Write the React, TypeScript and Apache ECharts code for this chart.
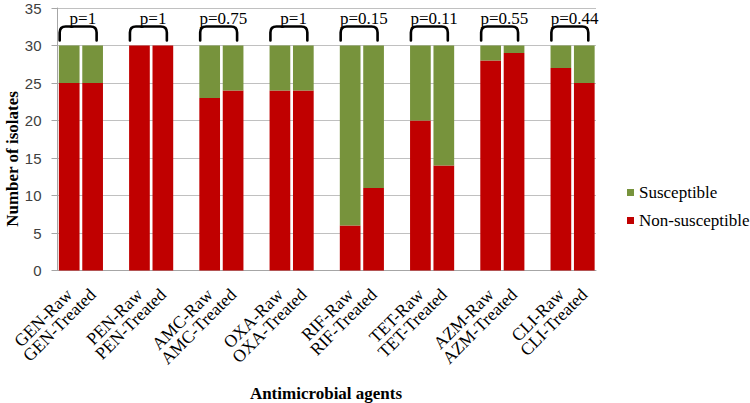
import React, { useEffect, useRef } from "react";
import * as echarts from "echarts";

const agents = ["GEN", "PEN", "AMC", "OXA", "RIF", "TET", "AZM", "CLI"];
const rawNonSusceptible = [25, 30, 23, 24, 6, 20, 28, 27];
const treatedNonSusceptible = [25, 30, 24, 24, 11, 14, 29, 25];
const rawSusceptible = [5, 0, 7, 6, 24, 10, 2, 3];
const treatedSusceptible = [5, 0, 6, 6, 19, 16, 1, 5];
const pValues = ["p=1", "p=1", "p=0.75", "p=1", "p=0.15", "p=0.11", "p=0.55", "p=0.44"];
const bracketLevel = 30;
const yMax = 35;
const yInterval = 5;

// Build category axis: Raw, Treated, spacer between groups
const categories: string[] = [];
const nsData: (number | string)[] = [];
const sData: (number | string)[] = [];
const bracketData: number[][] = [];
agents.forEach((a, g) => {
  const start = categories.length;
  categories.push(`${a}-Raw`, `${a}-Treated`);
  nsData.push(rawNonSusceptible[g], treatedNonSusceptible[g]);
  sData.push(rawSusceptible[g], treatedSusceptible[g]);
  bracketData.push([start, start + 1, bracketLevel, g]);
  if (g < agents.length - 1) {
    categories.push(" ".repeat(g + 1));
    nsData.push("-");
    sData.push("-");
  }
});

export default function App() {
  const ref = useRef<HTMLDivElement>(null);
  useEffect(() => {
    if (!ref.current) return;
    const chart = echarts.init(ref.current, null, { renderer: "svg" });
    const serif = "Liberation Serif";
    chart.setOption({
      animation: false,
      backgroundColor: "#fff",
      textStyle: { fontFamily: serif },
      grid: { left: 57.5, right: 154, top: 8, bottom: 132.5, containLabel: false, outerBoundsMode: "none" },
      legend: {
        orient: "vertical",
        left: 622,
        top: 179,
        data: ["Susceptible", "Non-susceptible"],
        icon: "rect",
        itemWidth: 7,
        itemHeight: 7,
        itemGap: 11,
        textStyle: { fontFamily: serif, fontSize: 17, color: "#000" },
      },
      xAxis: {
        type: "category",
        data: categories,
        axisLine: { lineStyle: { color: "#a6a6a6" } },
        axisTick: { show: false },
        axisLabel: {
          interval: 0,
          rotate: 45,
          margin: 21,
          padding: [12, 0, 0, 0],
          fontFamily: serif,
          fontSize: 17.5,
          color: "#000",
          formatter: (v: string) => (v.trim() ? v : ""),
        },
      },
      yAxis: {
        type: "value",
        min: 0,
        max: yMax,
        interval: yInterval,
        axisLine: { show: true, lineStyle: { color: "#a6a6a6" } },
        axisTick: { show: true, inside: false, length: 6, lineStyle: { color: "#a6a6a6" } },
        axisLabel: { margin: 16, fontFamily: "Liberation Sans", fontSize: 15, color: "#404040" },
        splitLine: { lineStyle: { color: "#c0c0c0" } },
      },
      graphic: [
        {
          type: "text",
          x: 12,
          y: 159,
          rotation: Math.PI / 2,
          style: {
            text: "Number of isolates",
            align: "center",
            verticalAlign: "middle",
            textAlign: "center",
            textVerticalAlign: "middle",
            fontFamily: serif,
            fontWeight: "bold",
            fontSize: 17,
            fill: "#000",
          },
        },
        {
          type: "text",
          x: 326,
          y: 393,
          style: {
            text: "Antimicrobial agents",
            align: "center",
            verticalAlign: "middle",
            textAlign: "center",
            textVerticalAlign: "middle",
            fontFamily: serif,
            fontWeight: "bold",
            fontSize: 17,
            fill: "#000",
          },
        },
      ],
      series: [
        {
          name: "Non-susceptible",
          type: "bar",
          stack: "total",
          barWidth: 20.7,
          data: nsData,
          itemStyle: { color: "#c00000" },
        },
        {
          name: "Susceptible",
          type: "bar",
          stack: "total",
          barWidth: 20.7,
          data: sData,
          itemStyle: { color: "#77933c" },
        },
        {
          name: "brackets",
          type: "custom",
          clip: false,
          z: 10,
          encode: { x: 0, y: 2 },
          data: bracketData,
          renderItem: (params: any, api: any) => {
            const i = api.value(0);
            const j = api.value(1);
            const lvl = api.value(2);
            const g = api.value(3);
            const p1 = api.coord([i, lvl]);
            const p2 = api.coord([j, lvl]);
            const x1 = p1[0] - 9.5;
            const x2 = p2[0] + 4;
            const yb = p1[1] - 5;
            const yt = p1[1] - 19;
            const r = 6;
            return {
              type: "group",
              children: [
                {
                  type: "path",
                  shape: {
                    pathData: `M${x1} ${yb} L${x1} ${yt + r} Q${x1} ${yt} ${x1 + r} ${yt} L${x2 - r} ${yt} Q${x2} ${yt} ${x2} ${yt + r} L${x2} ${yb}`,
                  },
                  style: { fill: "none", stroke: "#000", lineWidth: 2.6, lineCap: "round", lineJoin: "round" },
                },
                {
                  type: "text",
                  x: (p1[0] + p2[0]) / 2 + 2,
                  y: p1[1] - 27.4,
                  style: {
                    text: pValues[g],
                    align: "center",
                    verticalAlign: "middle",
                    textAlign: "center",
                    textVerticalAlign: "middle",
                    fontFamily: serif,
                    fontSize: 17,
                    fill: "#000",
                  },
                },
              ],
            };
          },
        },
      ],
    });
    return () => chart.dispose();
  }, []);
  return (
    <div
      ref={ref}
      style={{ position: "fixed", left: 0, top: 0, width: 750, height: 403, background: "#fff" }}
    />
  );
}
